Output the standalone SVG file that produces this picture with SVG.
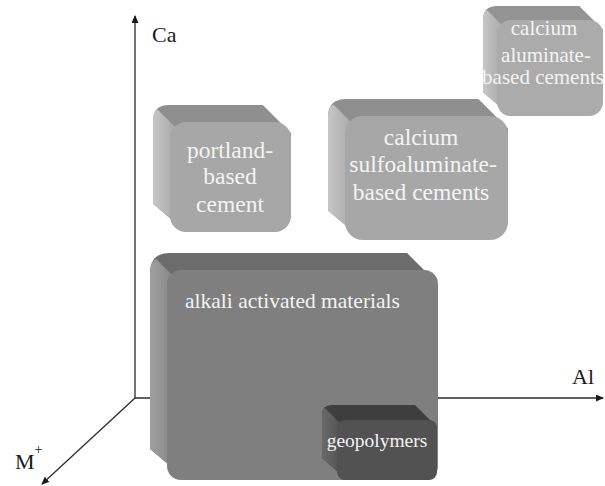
<svg xmlns="http://www.w3.org/2000/svg" width="605" height="486" viewBox="0 0 605 486">
<defs>
<style>
.axis{stroke:#2a2a2a;stroke-width:1.3;fill:none}
.ax{font-family:'Liberation Serif','DejaVu Serif',serif;font-size:22px;fill:#1a1a1a}
.lbl{font-family:'Liberation Serif','DejaVu Serif',serif;fill:#f4f4f4;text-anchor:middle}
.l1 .top{fill:#8f8f8f}.l1 .front{fill:#a7a7a7}
.l2 .top{fill:#6c6c6c}.l2 .front{fill:#7f7f7f}
.l3 .top{fill:#3e3e3e}.l3 .front{fill:#525252}
</style>
<linearGradient id="sideL" x1="0" y1="0" x2="1" y2="0">
<stop offset="0" stop-color="#c6c6c6"/><stop offset="1" stop-color="#9c9c9c"/>
</linearGradient>
<linearGradient id="sideM" x1="0" y1="0" x2="1" y2="0">
<stop offset="0" stop-color="#a0a0a0"/><stop offset="1" stop-color="#777"/>
</linearGradient>
<linearGradient id="sideD" x1="0" y1="0" x2="1" y2="0">
<stop offset="0" stop-color="#6a6a6a"/><stop offset="1" stop-color="#4a4a4a"/>
</linearGradient>
<marker id="arr" viewBox="0 0 8 7" refX="7" refY="3.5" markerWidth="8" markerHeight="7" markerUnits="userSpaceOnUse" orient="auto">
<path d="M0,0 L8,3.5 L0,7 z" fill="#1a1a1a"/>
</marker>
</defs>

<g id="connectors">
<line class="axis" x1="135" y1="398" x2="135" y2="16" marker-end="url(#arr)"/>
<line class="axis" x1="135" y1="398" x2="603" y2="398" marker-end="url(#arr)"/>
<line class="axis" x1="135" y1="398" x2="42" y2="484" marker-end="url(#arr)"/>
</g>

<g id="axis-labels">
<text class="ax" font-family="Liberation Serif, serif" x="152" y="42">Ca</text>
<text class="ax" font-family="Liberation Serif, serif" x="572" y="384">Al</text>
<text class="ax" font-family="Liberation Serif, serif" x="15" y="469">M<tspan font-size="14" dy="-15">+</tspan></text>
</g>

<g id="portland" class="l1">
<path class="top" d="M169,105 H262.8 L291,133.2 V216 L186,232 L153,203.8 V121 Q153,105 169,105 Z"/>
<path fill="url(#sideL)" d="M157.8,109.8 L174.8,126.8 L186,232 L153,203.8 V121 Q153,112 157.8,109.8 Z"/>
<rect class="front" x="170" y="122" width="121" height="110" rx="16"/>
<text class="lbl" font-family="Liberation Serif, serif" font-size="23.5"><tspan x="230" y="158">portland-</tspan><tspan x="230" y="184">based</tspan><tspan x="230" y="212">cement</tspan></text>
</g>

<g id="sulfoaluminate" class="l1">
<path class="top" d="M346,99 H478.4 L508,128.6 V222 L363,240 L328,210.4 V117 Q328,99 346,99 Z"/>
<path fill="url(#sideL)" d="M333.4,104.4 L350.4,121.4 L363,240 L328,210.4 V117 Q328,107 333.4,104.4 Z"/>
<rect class="front" x="345" y="116" width="163" height="124" rx="18"/>
<text class="lbl" font-family="Liberation Serif, serif" font-size="23.5"><tspan x="421" y="145">calcium</tspan><tspan x="423" y="172">sulfoaluminate-</tspan><tspan x="421" y="200">based cements</tspan></text>
</g>

<g id="aluminate" class="l1">
<path class="top" d="M497,6 H579.2 L603,29.8 V102 L511,116 L483,92.2 V20 Q483,6 497,6 Z" style="fill:#939393"/>
<path fill="url(#sideL)" d="M487.2,10.2 L501.2,24.2 L511,116 L483,92.2 V20 Q483,12 487.2,10.2 Z"/>
<rect class="front" x="497" y="20" width="106" height="96" rx="14" style="fill:#ababab"/>
<text class="lbl" font-family="Liberation Serif, serif" font-size="21"><tspan x="544" y="35">calcium</tspan><tspan x="546" y="62">aluminate-</tspan><tspan x="543" y="84">based cements</tspan></text>
</g>

<g id="alkali" class="l2">
<path class="top" d="M170,253 H407 L438,284 V460 L187,480 L150,449 V273 Q150,253 170,253 Z"/>
<path fill="url(#sideM)" d="M156,259 L173,276 L187,480 L150,449 V273 Q150,262 156,259 Z"/>
<rect class="front" x="167" y="270" width="271" height="210" rx="14"/>
<text class="lbl" font-family="Liberation Serif, serif" font-size="21.5" style="text-anchor:start" x="185" y="308">alkali activated materials</text>
</g>

<g id="geopolymers" class="l3">
<path class="top" d="M332,405 H415 L437,427 V470 L347,480 L322,458 V415 Q322,405 332,405 Z"/>
<path fill="url(#sideD)" d="M325,408 L340,423 L347,480 L322,458 V415 Q322,410 325,408 Z"/>
<rect class="front" x="337" y="420" width="100" height="60" rx="8"/>
<text class="lbl" font-family="Liberation Serif, serif" font-size="19.5" x="377" y="447">geopolymers</text>
</g>
</svg>
